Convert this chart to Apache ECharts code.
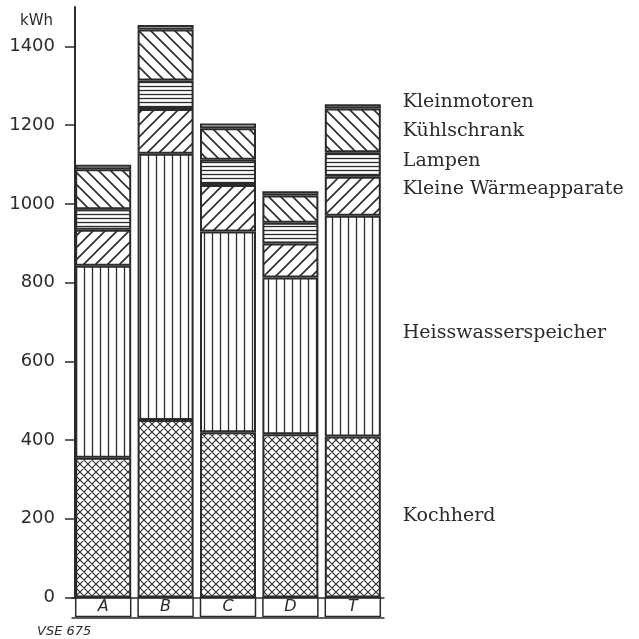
<!DOCTYPE html>
<html>
<head>
<meta charset="utf-8">
<script src="https://cdn.jsdelivr.net/npm/echarts@6/dist/echarts.min.js"></script>
<style>
html,body{margin:0;padding:0;background:#fff;}
#chart{width:639px;height:639px;}
</style>
</head>
<body>
<div id="chart"></div>
<script>
// ---- data (kWh) ----
const categories = ['A', 'B', 'C', 'D', 'T'];
const kochherd = [355, 451, 420, 415, 409];
const heisswasserspeicher = [488, 676, 510, 398, 561];
const kleineWaermeapparate = [91, 114, 118, 86, 99];
const lampen = [52, 72, 64, 53, 62];
const kuehlschrank = [102, 130, 80, 69, 111];
const kleinmotoren = [11, 11, 12, 11, 11];
const seriesNames = ['Kochherd', 'Heisswasserspeicher', 'Kleine Wärmeapparate', 'Lampen', 'Kühlschrank', 'Kleinmotoren'];
const yTicks = [0, 200, 400, 600, 800, 1000, 1200, 1400];

const INK = '#2b2b2b';

function mkPattern(w, h, lw, draw) {
  const c = document.createElement('canvas');
  c.width = w; c.height = h;
  const g = c.getContext('2d');
  g.fillStyle = '#ffffff';
  g.fillRect(0, 0, w, h);
  g.strokeStyle = INK;
  g.lineWidth = lw;
  g.beginPath();
  draw(g, w, h);
  g.stroke();
  return { image: c, repeat: 'repeat' };
}
function fwd(g, w) { // "/"
  g.moveTo(-1, w + 1); g.lineTo(w + 1, -1);
  g.moveTo(-2, 2); g.lineTo(2, -2);
  g.moveTo(w - 2, w + 2); g.lineTo(w + 2, w - 2);
}
function back(g, w) { // "\"
  g.moveTo(-1, -1); g.lineTo(w + 1, w + 1);
  g.moveTo(w - 2, -2); g.lineTo(w + 2, 2);
  g.moveTo(-2, w - 2); g.lineTo(2, w + 2);
}
const patterns = [
  mkPattern(8, 8, 1.1, (g, w) => { fwd(g, w); back(g, w); }),
  mkPattern(8, 8, 1.3, (g, w, h) => { g.moveTo(4.5, 0); g.lineTo(4.5, h); }),
  mkPattern(12, 12, 1.6, (g, w) => fwd(g, w)),
  mkPattern(8, 4, 1.3, (g, w, h) => { g.moveTo(0, 2.5); g.lineTo(w, 2.5); }),
  mkPattern(12, 12, 1.6, (g, w) => back(g, w)),
  '#ffffff'
];
const labelOffsets = [[0, -1], [0, 7], [0, -7], [0, -3], [0, 1], [0, -4]];
const allData = [kochherd, heisswasserspeicher, kleineWaermeapparate, lampen, kuehlschrank, kleinmotoren];

const series = allData.map((arr, si) => ({
  name: seriesNames[si],
  type: 'bar',
  stack: 'total',
  barWidth: 56,
  itemStyle: { color: patterns[si], borderColor: INK, borderWidth: 2 },
  emphasis: { disabled: true },
  data: arr.map((v, i) => i === arr.length - 1 ? {
    value: v,
    label: {
      show: true,
      position: 'right',
      distance: 22,
      offset: labelOffsets[si],
      formatter: seriesNames[si],
      fontFamily: 'DejaVu Serif',
      fontSize: 19,
      color: INK
    }
  } : v)
}));

const chart = echarts.init(document.getElementById('chart'), null, { renderer: 'canvas' });
chart.setOption({
  backgroundColor: '#ffffff',
  animation: false,
  grid: { left: 72, width: 312, top: 7, bottom: 41.5, containLabel: false },
  xAxis: [{
    type: 'category',
    data: categories,
    position: 'bottom',
    axisLine: { show: true, lineStyle: { color: INK, width: 1.5 } },
    axisTick: { show: false },
    axisLabel: {
      margin: 0,
      width: 55,
      height: 19,
      lineHeight: 19,
      padding: 0,
      align: 'center',
      verticalAlign: 'top',
      borderColor: INK,
      borderWidth: 1.5,
      fontFamily: 'DejaVu Sans',
      fontStyle: 'italic',
      fontSize: 16,
      color: INK
    }
  }, {
    type: 'category',
    data: categories,
    position: 'bottom',
    offset: 20,
    axisLine: { show: true, lineStyle: { color: INK, width: 1.5 } },
    axisTick: { show: false },
    axisLabel: { show: false }
  }],
  yAxis: {
    type: 'value',
    min: 0,
    max: 1500,
    interval: 100,
    offset: -3,
    name: 'kWh',
    nameLocation: 'end',
    nameGap: -22,
    nameTextStyle: { align: 'right', padding: [0, 22, 0, 0], fontFamily: 'DejaVu Sans', fontSize: 15, color: INK },
    splitLine: { show: false },
    axisLine: { show: true, lineStyle: { color: INK, width: 2 } },
    axisTick: { show: true, length: 10, customValues: yTicks, lineStyle: { color: INK, width: 1.5 } },
    axisLabel: { margin: 20, customValues: yTicks, formatter: v => String(v), fontFamily: 'DejaVu Sans', fontSize: 18, color: INK }
  },
  graphic: [{
    type: 'text',
    left: 37,
    top: 625,
    style: { text: 'VSE 675', fontFamily: 'DejaVu Sans', fontStyle: 'italic', fontSize: 13, fill: INK }
  }],
  series: series
});
</script>
</body>
</html>
